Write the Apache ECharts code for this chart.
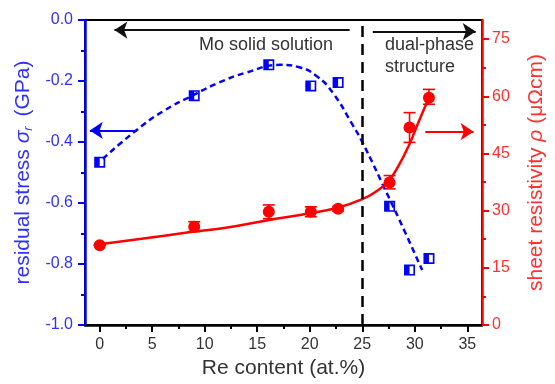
<!DOCTYPE html>
<html lang="en">
<head>
<meta charset="UTF-8" />
<title>stress and resistivity</title>
<script src="https://cdn.jsdelivr.net/npm/echarts@6/dist/echarts.min.js"></script>
<style>
  * { margin: 0; padding: 0; }
  body { background: #fff; }
</style>
</head>
<body>
<div id="main" style="width:555px;height:384px"></div>
<script>
// measured samples (Re content, at.%)
var reContent = [0, 9.0, 16.1, 20.1, 22.7, 27.6, 29.5, 31.35]
var stress = [-0.466, -0.248, -0.147, -0.216, -0.205, -0.611, -0.82, -0.782]
var resist = [20.9, 25.8, 29.7, 29.7, 30.5, 37.4, 51.8, 59.6]
var resistLow = [20.9, 24.5, 27.9, 28.4, 29.9, 35.7, 47.9, 57.9]
var resistHigh = [20.9, 27.1, 31.5, 31.0, 31.1, 39.2, 55.7, 61.8]

// guide curves
var stressFitX = [0.3, 3.4, 6.0, 9.0, 11.3, 14.0, 17.2, 19.0, 20.7, 22.2, 24.1, 25.0, 27.3, 29.0, 30.7]
var stressFitY = [-0.455, -0.364, -0.300, -0.245, -0.206, -0.172, -0.147, -0.155, -0.185, -0.239, -0.345, -0.40, -0.565, -0.69, -0.82]
var resistFitX = [0, 4, 9, 12, 16, 20, 22.8, 25, 26.3, 27.5, 28.5, 29.5, 30.4, 31.35]
var resistFitY = [21.2, 22.6, 24.5, 25.5, 27.5, 29.3, 30.9, 33.0, 35.0, 37.8, 42.0, 47.5, 53.5, 59.6]

// axis ticks
var xTicks = [0, 5, 10, 15, 20, 25, 30, 35]
var xMinor = [2.5, 7.5, 12.5, 17.5, 22.5, 27.5, 32.5]
var rTicks = [0, 15, 30, 45, 60, 75]
var rMinor = [7.5, 22.5, 37.5, 52.5, 67.5]

var font = '"Liberation Sans", Arial, sans-serif'
var blue = '#0000ff'
var red = '#ff0000'

function zip(a, b) {
  return a.map(function (v, i) { return [v, b[i]] })
}

var chart = echarts.init(document.getElementById('main'))

var option = {
  animation: false,
  textStyle: { fontFamily: font },
  grid: { left: 85, right: 67, top: 20, bottom: 57, show: true, borderColor: '#000', borderWidth: 2 },
  xAxis: [
    {
      type: 'value', min: -1.4, max: 36.4, position: 'bottom',
      axisLine: { onZero: false, lineStyle: { color: '#000', width: 2.5 } },
      axisTick: { customValues: xTicks, length: 7, lineStyle: { color: '#000', width: 2 } },
      axisLabel: { customValues: xTicks, fontSize: 16, color: '#333', margin: 12 },
      splitLine: { show: false },
      name: 'Re content (at.%)', nameLocation: 'middle', nameGap: 33,
      nameTextStyle: { fontSize: 21, color: '#333' }
    },
    {
      type: 'value', min: -1.4, max: 36.4, position: 'bottom',
      axisLine: { show: false, onZero: false },
      axisTick: { customValues: xMinor, length: 4, lineStyle: { color: '#000', width: 2 } },
      axisLabel: { show: false },
      splitLine: { show: false }
    }
  ],
  yAxis: [
    {
      type: 'value', min: -1, max: 0, interval: 0.2, position: 'left',
      axisLine: { show: true, onZero: false, lineStyle: { color: blue, width: 2.5 } },
      axisTick: { show: true, length: 7, lineStyle: { color: blue, width: 2 } },
      minorTick: { show: true, splitNumber: 2, length: 4, lineStyle: { color: blue, width: 2 } },
      axisLabel: { fontSize: 16, color: '#3030ff', margin: 12, formatter: function (v) { return v.toFixed(1) } },
      splitLine: { show: false },
      name: 'residual stress {i|σ}{s|r} (GPa)', nameLocation: 'middle', nameGap: 48,
      nameTextStyle: {
        fontSize: 21, color: '#3030ff',
        rich: {
          i: { fontSize: 21, fontStyle: 'italic', color: '#3030ff' },
          s: { fontSize: 13, fontStyle: 'italic', color: '#3030ff', verticalAlign: 'bottom', padding: [10, 4, 0, 0] }
        }
      }
    },
    {
      type: 'value', min: 0, max: 80, position: 'right',
      axisLine: { show: true, onZero: false, lineStyle: { color: red, width: 2.5 } },
      axisTick: { show: true, customValues: rTicks, length: 7, lineStyle: { color: red, width: 2 } },
      axisLabel: { customValues: rTicks, fontSize: 16, color: '#ff3030', margin: 10 },
      splitLine: { show: false },
      name: 'sheet resistivity {i|ρ} (μΩcm)', nameLocation: 'middle', nameGap: 44,
      nameTextStyle: {
        fontSize: 21, color: '#ff3030',
        rich: { i: { fontSize: 21, fontStyle: 'italic', color: '#ff3030' } }
      }
    },
    {
      type: 'value', min: 0, max: 80, position: 'right',
      axisLine: { show: false, onZero: false },
      axisTick: { show: true, customValues: rMinor, length: 4, lineStyle: { color: red, width: 2 } },
      axisLabel: { show: false },
      splitLine: { show: false }
    }
  ],
  graphic: [
    { type: 'text', x: 266, y: 45, style: { text: 'Mo solid solution', font: '18px ' + font, fill: '#333', align: 'center', verticalAlign: 'middle' } },
    { type: 'text', x: 385, y: 45, style: { text: 'dual-phase', font: '18px ' + font, fill: '#333', align: 'left', verticalAlign: 'middle' } },
    { type: 'text', x: 385, y: 67, style: { text: 'structure', font: '18px ' + font, fill: '#333', align: 'left', verticalAlign: 'middle' } }
  ],
  series: [
    {
      type: 'line', xAxisIndex: 0, yAxisIndex: 0,
      data: zip(stressFitX, stressFitY),
      smooth: true, symbol: 'none',
      lineStyle: { color: blue, width: 2.5, type: [6, 4] },
      markLine: {
        silent: true, symbol: ['none', 'arrow'], symbolSize: 13,
        label: { show: false },
        data: [
          [{ coord: [23.8, -0.033], lineStyle: { color: '#111', width: 2, type: 'solid' }, itemStyle: { color: '#111' } }, { coord: [1.4, -0.033] }],
          [{ coord: [26.0, -0.038], lineStyle: { color: '#111', width: 2, type: 'solid' }, itemStyle: { color: '#111' } }, { coord: [35.8, -0.038] }],
          [{ coord: [3.5, -0.362], lineStyle: { color: blue, width: 2, type: 'solid' }, itemStyle: { color: blue } }, { coord: [-0.94, -0.362] }]
        ]
      }
    },
    {
      type: 'line', xAxisIndex: 0, yAxisIndex: 1,
      data: zip(resistFitX, resistFitY),
      smooth: true, symbol: 'none',
      lineStyle: { color: red, width: 2.5 },
      markLine: {
        silent: true, symbol: ['none', 'arrow'], symbolSize: 13,
        label: { show: false },
        data: [
          [{ coord: [31.0, 50.7], lineStyle: { color: red, width: 2, type: 'solid' }, itemStyle: { color: red } }, { coord: [35.6, 50.7] }],
          [{ xAxis: 25, yAxis: 0, symbol: 'none', lineStyle: { color: '#000', width: 2.5, type: [11, 7] } }, { xAxis: 25, yAxis: 80, symbol: 'none' }]
        ]
      }
    },
    {
      type: 'custom', xAxisIndex: 0, yAxisIndex: 1,
      data: reContent.map(function (x, i) { return [x, resistLow[i], resistHigh[i]] }),
      renderItem: function (params, api) {
        var lo = api.coord([api.value(0), api.value(1)])
        var hi = api.coord([api.value(0), api.value(2)])
        var w = 6
        var st = { stroke: red, lineWidth: 1.6 }
        return {
          type: 'group',
          children: [
            { type: 'line', shape: { x1: lo[0], y1: lo[1], x2: hi[0], y2: hi[1] }, style: st },
            { type: 'line', shape: { x1: lo[0] - w, y1: lo[1], x2: lo[0] + w, y2: lo[1] }, style: st },
            { type: 'line', shape: { x1: hi[0] - w, y1: hi[1], x2: hi[0] + w, y2: hi[1] }, style: st }
          ]
        }
      },
      encode: { x: 0, y: [1, 2] },
      z: 3
    },
    {
      type: 'scatter', xAxisIndex: 0, yAxisIndex: 1,
      data: zip(reContent, resist),
      symbol: 'circle', symbolSize: 12,
      itemStyle: { color: red, opacity: 1 },
      z: 4
    },
    {
      type: 'scatter', xAxisIndex: 0, yAxisIndex: 0,
      data: zip(reContent, stress),
      symbol: 'path://M0,0L10,0L10,10L0,10ZM5,1.5L5,8.5L8.5,8.5L8.5,1.5Z',
      symbolSize: 11,
      itemStyle: { color: blue, opacity: 1 },
      z: 5
    }
  ]
}

chart.setOption(option)
</script>
</body>
</html>
